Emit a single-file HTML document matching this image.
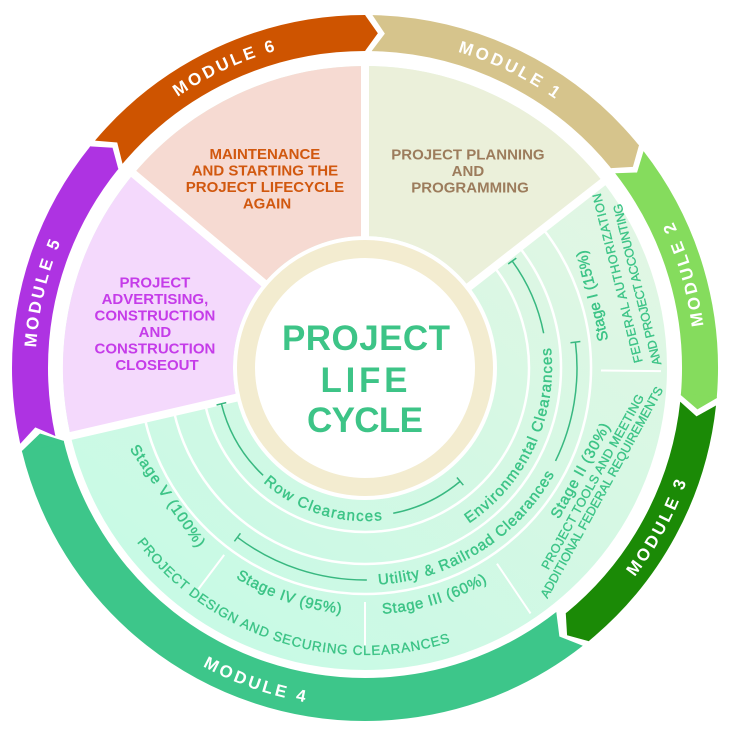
<!DOCTYPE html>
<html><head><meta charset="utf-8">
<style>
html,body{margin:0;padding:0;background:#fff;width:735px;height:730px;overflow:hidden;}
svg{display:block;}
text{font-family:"Liberation Sans",Arial,sans-serif;}
.ml{fill:#fff;font-weight:bold;font-size:17px;letter-spacing:3px;}
.g{fill:#3dc487;font-size:15px;stroke:#3dc487;stroke-width:0.45;}
.gc{fill:#3dc487;stroke:#3dc487;stroke-width:0.35;}
.sec{font-weight:bold;font-size:15px;}
</style></head><body>
<svg width="735" height="730" viewBox="0 0 735 730" xmlns="http://www.w3.org/2000/svg">
<defs>
<linearGradient id="gg" gradientUnits="userSpaceOnUse" x1="260" y1="-230" x2="-120" y2="300">
<stop offset="0" stop-color="#e4f6e4"/><stop offset="1" stop-color="#c7fae5"/>
</linearGradient>
<path id="pcw" d="M -329.5,0 A 329.5 329.5 0 0 1 329.5,0"/>
<path id="pccw" d="M -341,0 A 341 341 0 0 0 341,0"/>
<path id="pm4" d="M -339.5,0 A 339.5 339.5 0 0 0 339.5,0"/>
<path id="ppd" d="M -287,0 A 287 287 0 0 0 287,0"/>
<path id="pst" d="M -246.5,0 A 246.5 246.5 0 0 0 246.5,0"/>
<path id="prow" d="M -153,0 A 153 153 0 0 0 153,0"/>
<path id="penv" d="M -187,0 A 187 187 0 0 0 187,0"/>
<path id="put" d="M -217,0 A 217 217 0 0 0 217,0"/>
</defs>

<g transform="translate(365,368)">
  <!-- inner sectors -->
  <circle r="217" fill="none" stroke="url(#gg)" stroke-width="170"/>
  <circle r="217" fill="none" stroke="#f4d9fc" stroke-width="170" stroke-dasharray="200.73 3000" transform="rotate(167)"/>
  <circle r="217" fill="none" stroke="#f6dad2" stroke-width="170" stroke-dasharray="189.37 3000" transform="rotate(220)"/>
  <circle r="217" fill="none" stroke="#ebf0da" stroke-width="170" stroke-dasharray="196.94 3000" transform="rotate(270)"/>

  <!-- white arcs in green area -->
  <g fill="none" stroke="#fff" stroke-width="2.5">
    <circle r="164" stroke-dasharray="586.78 3000" transform="rotate(322)"/>
    <circle r="196" stroke-dasharray="701.27 3000" transform="rotate(322)"/>
    <circle r="226" stroke-dasharray="808.61 3000" transform="rotate(322)"/>
  </g>

  <!-- sector separators -->
  <g stroke="#fff" stroke-width="8">
    <line x1="125" y1="0" x2="310" y2="0" transform="rotate(167)"/>
    <line x1="125" y1="0" x2="310" y2="0" transform="rotate(220)"/>
    <line x1="125" y1="0" x2="310" y2="0" transform="rotate(270)"/>
    <line x1="125" y1="0" x2="310" y2="0" transform="rotate(322)"/>
  </g>

  <!-- stage ring separators -->
  <g stroke="#fff" stroke-width="2">
    <line x1="236" y1="0" x2="296" y2="0" transform="rotate(0.6)"/>
    <line x1="236" y1="0" x2="296" y2="0" transform="rotate(56)"/>
    <line x1="234" y1="0" x2="281" y2="0" transform="rotate(90)"/>
    <line x1="234" y1="0" x2="277" y2="0" transform="rotate(127)"/>
  </g>

  <!-- bracket lines -->
  <g fill="none" stroke="#38b880" stroke-width="1.5">
    <circle r="148" stroke-dasharray="83.95 3000" transform="rotate(133.5)"/>
    <circle r="148" stroke-dasharray="74.91 3000" transform="rotate(50)"/>
    <line x1="143" y1="0" x2="153" y2="0" transform="rotate(166)"/>
    <line x1="143" y1="0" x2="153" y2="0" transform="rotate(50)"/>
    <circle r="182" stroke-dasharray="79.41 3000" transform="rotate(324)"/>
    <line x1="177" y1="0" x2="187" y2="0" transform="rotate(324)"/>
    <circle r="212" stroke-dasharray="138.75 3000" transform="rotate(89.5)"/>
    <circle r="212" stroke-dasharray="122.10 3000" transform="rotate(353)"/>
    <line x1="207" y1="0" x2="217" y2="0" transform="rotate(127)"/>
    <line x1="207" y1="0" x2="217" y2="0" transform="rotate(353)"/>
  </g>

  <!-- curved green texts -->
  <text class="g" text-anchor="middle" letter-spacing="1.4" transform="rotate(17.35)"><textPath href="#prow" startOffset="50%">Row Clearances</textPath></text>
  <text class="g" text-anchor="middle" letter-spacing="1.2" transform="rotate(-65.15)"><textPath href="#penv" startOffset="50%">Environmental Clearances</textPath></text>
  <text class="g" text-anchor="middle" letter-spacing="0.9" transform="rotate(-32.25)"><textPath href="#put" startOffset="50%">Utility &amp; Railroad Clearances</textPath></text>
  <text class="g" text-anchor="middle" font-size="15.5" letter-spacing="0.8" transform="rotate(18.5)"><textPath href="#pst" startOffset="50%">Stage IV (95%)</textPath></text>
  <text class="g" text-anchor="middle" font-size="15.5" letter-spacing="0.75" transform="rotate(-17)"><textPath href="#pst" startOffset="50%">Stage III (60%)</textPath></text>
  <text class="gc" text-anchor="middle" font-size="13.5" letter-spacing="0.8" transform="rotate(17.6)"><textPath href="#ppd" startOffset="50%">PROJECT DESIGN AND SECURING CLEARANCES</textPath></text>

  <!-- straight green texts -->
  <g transform="rotate(55.5)"><text class="g" font-size="15.5" letter-spacing="1.1" text-anchor="middle" x="-6" y="240">Stage V (100%)</text></g>
  <g transform="rotate(-61)">
    <text class="g" font-size="15.5" letter-spacing="0.8" text-anchor="middle" x="15" y="243">Stage II (30%)</text>
    <text class="gc" font-size="12.5" letter-spacing="0.2" text-anchor="middle" x="11" y="258.5">PROJECT TOOLS AND MEETING</text>
    <text class="gc" font-size="12.5" text-anchor="middle" x="6" y="271.5">ADDITIONAL FEDERAL REQUIREMENTS</text>
  </g>
  <g transform="rotate(-104)">
    <text class="g" font-size="15.5" letter-spacing="0.1" text-anchor="middle" x="15" y="243">Stage I (15%)</text>
    <text class="gc" font-size="12.5" text-anchor="middle" x="26" y="271" textLength="174" lengthAdjust="spacing">FEDERAL AUTHORIZATION</text>
    <text class="gc" font-size="12.5" text-anchor="middle" x="15" y="288.5" textLength="166" lengthAdjust="spacing">AND PROJECT ACCOUNTING</text>
  </g>

  <!-- center ring -->
  <circle r="119" fill="#fff" stroke="#f3ecd0" stroke-width="18"/>

  <!-- module bands (no rotation; positioned via dashoffset) -->
  <g fill="none" stroke-width="36">
    <circle r="335" stroke="#d6c48c" stroke-dasharray="290.59 3000" stroke-dashoffset="-1585.67"/>
    <path stroke="#85dc5d" d="M 264.34,-205.79 A 335 335 0 0 1 333.78,28.61"/>
    <circle r="335" stroke="#1b8a06" stroke-dasharray="260.77 3000" stroke-dashoffset="-35.67"/>
    <circle r="331.5" stroke="#3dc68a" stroke-width="43" stroke-dasharray="662.47 3000" stroke-dashoffset="-300.28"/>
    <circle r="335" stroke="#ae33e2" stroke-dasharray="299.94 3000" stroke-dashoffset="-979.93"/>
    <circle r="335" stroke="#ce5400" stroke-dasharray="291.76 3000" stroke-dashoffset="-1286.89"/>
  </g>
  <!-- notches -->
  <g fill="#fff">
    <polygon points="355.74,1.80 334.60,16.37 314.34,1.36" transform="rotate(270.6)"/>
    <polygon points="355.74,1.80 334.60,16.37 314.34,1.36" transform="rotate(321.5)"/>
    <polygon points="355.74,1.80 334.60,16.37 314.34,1.36" transform="rotate(5.5)"/>
    <polygon points="356.26,1.83 331.10,16.19 306.81,1.31" transform="rotate(51.3)"/>
    <polygon points="355.74,1.80 334.60,16.37 314.34,1.36" transform="rotate(167)"/>
    <polygon points="355.74,1.80 334.60,16.37 314.34,1.36" transform="rotate(219.5)"/>
  </g>
  <!-- tips -->
  <polygon fill="#ce5400" points="353,-5 352.98,-3.70 334.87,9.35 316.98,-3.32 317,-5" transform="rotate(270.6)"/>
  <polygon fill="#d6c48c" points="353,-5 352.98,-3.70 334.87,9.35 316.98,-3.32 317,-5" transform="rotate(321.5)"/>
  <polygon fill="#85dc5d" points="353,-5 352.98,-3.70 334.87,9.35 316.98,-3.32 317,-5" transform="rotate(5.5)"/>
  <polygon fill="#1b8a06" points="353,-5 352.98,-3.70 334.87,9.35 316.98,-3.32 317,-5" transform="rotate(51.3)"/>
  <polygon fill="#3dc68a" points="353,-5 352.98,-3.70 331.37,9.26 309.98,-3.25 310,-5" transform="rotate(167)"/>
  <polygon fill="#ae33e2" points="353,-5 352.98,-3.70 334.87,9.35 316.98,-3.32 317,-5" transform="rotate(219.5)"/>

  <!-- module labels -->
  <text class="ml" text-anchor="middle" transform="rotate(26.05)"><textPath href="#pcw" startOffset="50%">MODULE 1</textPath></text>
  <text class="ml" text-anchor="middle" transform="rotate(-24.95)"><textPath href="#pcw" startOffset="50%">MODULE 6</textPath></text>
  <text class="ml" text-anchor="middle" transform="rotate(-76.75)"><textPath href="#pcw" startOffset="50%">MODULE 5</textPath></text>
  <text class="ml" text-anchor="middle" transform="rotate(253.5)"><textPath href="#pccw" startOffset="50%">MODULE 2</textPath></text>
  <text class="ml" text-anchor="middle" transform="rotate(-61.6)"><textPath href="#pccw" startOffset="50%">MODULE 3</textPath></text>
  <text class="ml" text-anchor="middle" transform="rotate(19.15)"><textPath href="#pm4" startOffset="50%">MODULE 4</textPath></text>
</g>

<!-- sector texts -->
<text class="sec" fill="#d1580f" text-anchor="middle">
  <tspan x="267" y="159">MAINTENANCE</tspan>
  <tspan x="267" y="175.5">AND STARTING THE</tspan>
  <tspan x="267" y="192">PROJECT LIFECYCLE</tspan>
  <tspan x="267" y="208.5">AGAIN</tspan>
</text>
<text class="sec" fill="#9c7c5c" text-anchor="middle">
  <tspan x="470" y="159.5">PROJECT PLANNING</tspan>
  <tspan x="470" y="176">AND</tspan>
  <tspan x="470" y="192.5">PROGRAMMING</tspan>
</text>
<text class="sec" fill="#c53ce9" text-anchor="middle" font-size="14.5">
  <tspan x="157" y="287.5">PROJECT</tspan>
  <tspan x="157" y="304">ADVERTISING,</tspan>
  <tspan x="157" y="320.5">CONSTRUCTION</tspan>
  <tspan x="157" y="337">AND</tspan>
  <tspan x="157" y="353.5">CONSTRUCTION</tspan>
  <tspan x="157" y="370">CLOSEOUT</tspan>
</text>

<!-- center title -->
<g fill="#3dc487" font-weight="bold" font-size="35" text-anchor="middle">
  <text x="366" y="350" textLength="168" lengthAdjust="spacing">PROJECT</text>
  <text x="364" y="392" textLength="87" lengthAdjust="spacing">LIFE</text>
  <text x="365" y="432" textLength="116" lengthAdjust="spacing">CYCLE</text>
</g>
</svg>
</body></html>
